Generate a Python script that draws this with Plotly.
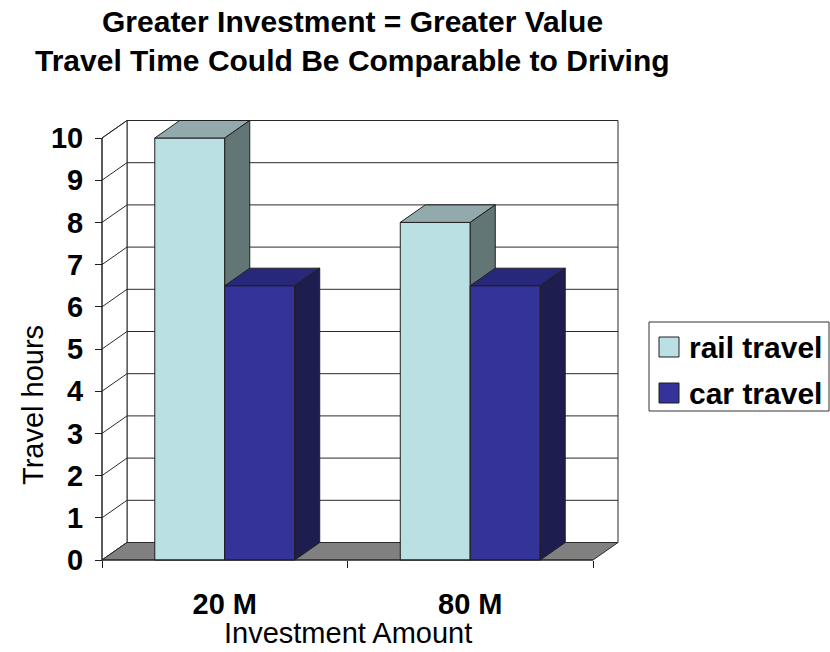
import plotly.graph_objects as go

# ---------------- data ----------------
categories = ["20 M", "80 M"]
series_names = ["rail travel", "car travel"]
rail_travel = [10.0, 8.0]
car_travel = [6.5, 6.5]
y_ticks = [0, 1, 2, 3, 4, 5, 6, 7, 8, 9, 10]
title_lines = ["Greater Investment = Greater Value", "Travel Time Could Be Comparable to Driving"]
x_title = "Investment Amount"
y_title = "Travel hours"

# ---------------- style / geometry ----------------
W, H = 830, 652
ML, MR, MT, MB = 95, 205, 116, 88
PX_X = 245.5          # pixels per category
PX_Y = 42.2           # pixels per hour
PAD_X = 7 / PX_X
PAD_Y = 4 / PX_Y
DX = 25 / PX_X        # 3-D depth offset (x)
DY = 17.5 / PX_Y      # 3-D depth offset (y)
BW = 0.285            # bar width in category units
plot_w = W - ML - MR
plot_h = H - MT - MB
x_lo = -0.5 - PAD_X
x_hi = x_lo + plot_w / PX_X
y_lo = -PAD_Y
y_hi = y_lo + plot_h / PX_Y

FONT = "Liberation Sans, Arial, sans-serif"
EDGE = "#1f1f1f"
GRID = "#2a2a2a"
FLOOR = "#808080"
colors = {
    "rail travel": dict(front="#BBE0E3", top="#93AAAC", side="#627676"),
    "car travel": dict(front="#333399", top="#28287A", side="#1D1D4F"),
}
series_vals = {"rail travel": rail_travel, "car travel": car_travel}


def px_x(p):
    return (p - ML) / plot_w


def px_y(p):
    return (H - MB - p) / plot_h


def poly(xs, ys, fill, lc=EDGE, lw=1):
    return go.Scatter(x=list(xs) + [xs[0]], y=list(ys) + [ys[0]], mode="lines",
                      fill="toself", fillcolor=fill, line=dict(color=lc, width=lw),
                      hoverinfo="skip", showlegend=False)


def segs(pairs, lc=GRID, lw=1):
    xs, ys = [], []
    for (x0, y0), (x1, y1) in pairs:
        xs += [x0, x1, None]
        ys += [y0, y1, None]
    return go.Scatter(x=xs, y=ys, mode="lines", line=dict(color=lc, width=lw),
                      hoverinfo="skip", showlegend=False)


n = len(categories)
xl, xr = -0.5, n - 0.5
ymax = max(y_ticks)
traces = []

# back wall
traces.append(poly([xl + DX, xr + DX, xr + DX, xl + DX], [DY, DY, ymax + DY, ymax + DY], "white", GRID))
# left side wall
traces.append(poly([xl, xl, xl + DX, xl + DX], [0, ymax, ymax + DY, DY], "white", GRID))
# gridlines on back wall + diagonals on side wall
traces.append(segs([((xl + DX, v + DY), (xr + DX, v + DY)) for v in y_ticks]))
traces.append(segs([((xl, v), (xl + DX, v + DY)) for v in y_ticks]))
# floor
traces.append(poly([xl, xr, xr + DX, xl + DX], [0, 0, DY, DY], FLOOR, GRID))

# 3-D bars
for i in range(n):
    for j, name in enumerate(series_names):
        v = series_vals[name][i]
        c = colors[name]
        a = i - BW + j * BW
        b = a + BW
        traces.append(poly([a, b, b, a], [0, 0, v, v], c["front"]))
        traces.append(poly([a, b, b + DX, a + DX], [v, v, v + DY, v + DY], c["top"]))
        traces.append(poly([b, b + DX, b + DX, b], [0, DY, v + DY, v], c["side"]))

# front axis line (left) and front floor edge
traces.append(segs([((xl, 0), (xl, ymax)), ((xl, 0), (xr, 0))], EDGE))

fig = go.Figure(traces)

annotations = [
    dict(text=x_title, xref="x", yref="paper", x=(xl + xr) / 2, y=px_y(633),
         xanchor="center", yanchor="middle", showarrow=False,
         font=dict(family=FONT, size=29, color="black")),
    dict(text=y_title, xref="paper", yref="paper", x=px_x(33), y=px_y(405),
         xanchor="center", yanchor="middle", textangle=-90, showarrow=False,
         font=dict(family=FONT, size=29, color="black")),
]
for line, yc in zip(title_lines, [22, 60]):
    annotations.append(dict(text=line, xref="paper", yref="paper", x=px_x(352), y=px_y(yc),
                            xanchor="center", yanchor="middle", showarrow=False,
                            font=dict(family=FONT, size=30, color="black", weight="bold")))
shapes = [
    dict(type="rect", xref="paper", yref="paper", x0=px_x(649), x1=px_x(829),
         y0=px_y(411), y1=px_y(322), line=dict(color="#333333", width=1), fillcolor="white"),
]
leg_rows = [347, 393]
for name, yc in zip(series_names, leg_rows):
    shapes.append(dict(type="rect", xref="paper", yref="paper", x0=px_x(659), x1=px_x(679),
                       y0=px_y(yc + 10), y1=px_y(yc - 10),
                       line=dict(color=EDGE, width=1), fillcolor=colors[name]["front"]))
    annotations.append(dict(text=name, xref="paper", yref="paper", x=px_x(687), y=px_y(yc),
                            xanchor="left", yanchor="middle", showarrow=False,
                            font=dict(family=FONT, size=30, color="black", weight="bold")))

fig.update_layout(
    width=W, height=H,
    margin=dict(l=ML, r=MR, t=MT, b=MB, pad=0),
    paper_bgcolor="white", plot_bgcolor="white",
    showlegend=False,
    xaxis=dict(range=[x_lo, x_hi], tickmode="array", tickvals=list(range(n)), ticktext=categories,
               ticks="", showgrid=False, zeroline=False, showline=False,
               anchor="free", position=PAD_Y * PX_Y / plot_h, automargin=False,
               ticklabelstandoff=24,
               minor=dict(tickmode="array", tickvals=[k - 0.5 for k in range(n + 1)],
                          ticks="outside", ticklen=7, tickwidth=1, tickcolor=EDGE, showgrid=False),
               tickfont=dict(family=FONT, size=29, color="black", weight="bold")),
    yaxis=dict(range=[y_lo, y_hi], tickmode="array", tickvals=y_ticks,
               ticks="outside", ticklen=7, tickwidth=1, tickcolor=EDGE,
               showgrid=False, zeroline=False, showline=False,
               anchor="free", position=PAD_X * PX_X / plot_w, automargin=False,
               ticklabelstandoff=6,
               tickfont=dict(family=FONT, size=29, color="black", weight="bold")),
    annotations=annotations, shapes=shapes,
)

fig.write_html("out.html")
